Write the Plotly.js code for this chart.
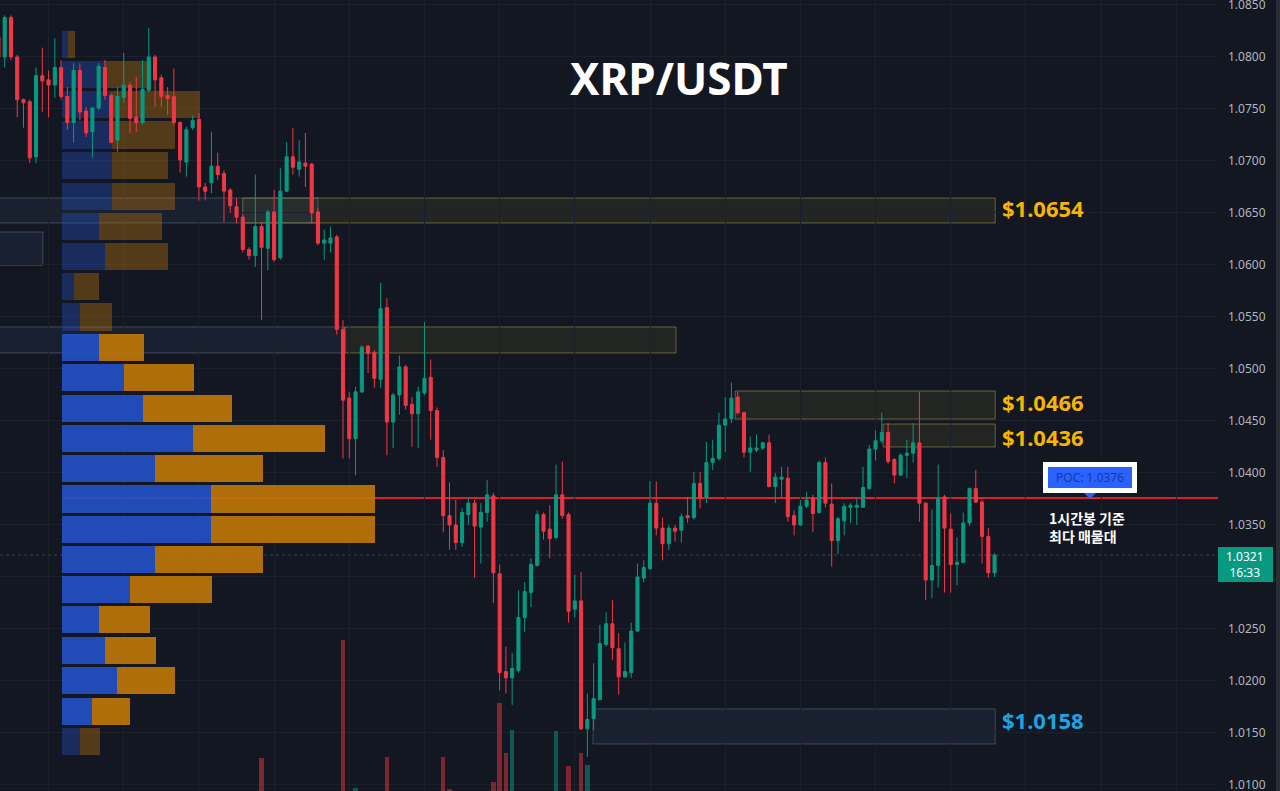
<!DOCTYPE html>
<html><head><meta charset="utf-8">
<script src="https://cdn.plot.ly/plotly-3.0.1.min.js"></script>
<style>html,body{margin:0;padding:0;background:#131722;}#chart{width:1280px;height:791px;}</style>
</head><body><div id="chart"></div>
<script>
// ---- candles (1h) ----
const openP = [1.0819,1.0800,1.0838,1.0800,1.0759,1.0757,1.0704,1.0782,1.0778,1.0773,
1.0790,1.0762,1.0737,1.0787,1.0748,1.0728,1.0751,1.0790,1.0763,1.0720,
1.0761,1.0773,1.0742,1.0737,1.0768,1.0800,1.0780,1.0763,1.0762,1.0737,
1.0699,1.0732,1.0740,1.0675,1.0679,1.0695,1.0688,1.0672,1.0656,1.0646,
1.0615,1.0609,1.0637,1.0616,1.0651,1.0607,1.0671,1.0704,1.0692,1.0698,
1.0697,1.0651,1.0621,1.0621,1.0627,1.0538,1.0472,1.0433,1.0478,1.0522,
1.0516,1.0490,1.0559,1.0449,1.0475,1.0502,1.0466,1.0457,1.0477,1.0492,
1.0460,1.0415,1.0359,1.0350,1.0333,1.0360,1.0371,1.0348,1.0362,1.0378,
1.0303,1.0209,1.0203,1.0210,1.0261,1.0285,1.0311,1.0360,1.0346,1.0338,
1.0379,1.0360,1.0269,1.0277,1.0154,1.0164,1.0182,1.0235,1.0255,1.0231,
1.0204,1.0208,1.0248,1.0299,1.0308,1.0371,1.0347,1.0332,1.0347,1.0345,
1.0359,1.0357,1.0390,1.0377,1.0410,1.0414,1.0446,1.0452,1.0473,1.0458,
1.0420,1.0422,1.0424,1.0429,1.0387,1.0394,1.0395,1.0359,1.0350,1.0368,
1.0376,1.0362,1.0410,1.0370,1.0335,1.0354,1.0367,1.0367,1.0367,1.0385,
1.0423,1.0431,1.0439,1.0413,1.0398,1.0417,1.0419,1.0429,1.0371,1.0297,
1.0311,1.0377,1.0346,1.0312,1.0314,1.0352,1.0385,1.0372,1.0339,1.0304];
const highP = [1.0823,1.0840,1.0840,1.0802,1.0760,1.0759,1.0790,1.0809,1.0787,1.0818,
1.0797,1.0771,1.0794,1.0794,1.0752,1.0752,1.0794,1.0797,1.0765,1.0771,
1.0804,1.0776,1.0781,1.0797,1.0828,1.0802,1.0783,1.0771,1.0789,1.0738,
1.0733,1.0744,1.0746,1.0679,1.0728,1.0708,1.0691,1.0674,1.0664,1.0648,
1.0617,1.0687,1.0641,1.0653,1.0672,1.0693,1.0718,1.0732,1.0720,1.0727,
1.0698,1.0655,1.0634,1.0637,1.0629,1.0547,1.0478,1.0483,1.0523,1.0523,
1.0518,1.0583,1.0568,1.0477,1.0513,1.0504,1.0473,1.0483,1.0545,1.0509,
1.0463,1.0422,1.0391,1.0374,1.0366,1.0376,1.0374,1.0371,1.0393,1.0381,
1.0312,1.0233,1.0227,1.0287,1.0295,1.0318,1.0364,1.0362,1.0369,1.0408,
1.0411,1.0362,1.0302,1.0305,1.0188,1.0217,1.0254,1.0266,1.0278,1.0246,
1.0237,1.0256,1.0313,1.0316,1.0392,1.0392,1.0357,1.0350,1.0350,1.0361,
1.0377,1.0401,1.0401,1.0430,1.0432,1.0458,1.0473,1.0487,1.0478,1.0459,
1.0435,1.0437,1.0430,1.0437,1.0400,1.0406,1.0406,1.0364,1.0374,1.0382,
1.0379,1.0412,1.0415,1.0390,1.0358,1.0371,1.0371,1.0376,1.0406,1.0427,
1.0441,1.0458,1.0448,1.0414,1.0419,1.0432,1.0448,1.0478,1.0372,1.0365,
1.0408,1.0379,1.0361,1.0338,1.0362,1.0386,1.0403,1.0374,1.0347,1.0323];
const lowP = [1.0795,1.0790,1.0797,1.0742,1.0732,1.0698,1.0698,1.0747,1.0742,1.0761,
1.0759,1.0730,1.0718,1.0739,1.0723,1.0703,1.0749,1.0759,1.0717,1.0709,
1.0756,1.0727,1.0728,1.0735,1.0766,1.0752,1.0752,1.0744,1.0735,1.0689,
1.0685,1.0730,1.0662,1.0662,1.0669,1.0682,1.0641,1.0650,1.0640,1.0612,
1.0605,1.0598,1.0547,1.0595,1.0603,1.0605,1.0670,1.0687,1.0685,1.0675,
1.0640,1.0619,1.0605,1.0612,1.0533,1.0414,1.0414,1.0398,1.0477,1.0496,
1.0482,1.0482,1.0417,1.0424,1.0456,1.0461,1.0425,1.0424,1.0475,1.0432,
1.0406,1.0343,1.0326,1.0326,1.0329,1.0350,1.0299,1.0313,1.0353,1.0275,
1.0191,1.0188,1.0177,1.0208,1.0247,1.0271,1.0310,1.0336,1.0318,1.0336,
1.0356,1.0256,1.0261,1.0153,1.0127,1.0153,1.0182,1.0233,1.0220,1.0187,
1.0203,1.0203,1.0247,1.0295,1.0307,1.0340,1.0316,1.0326,1.0334,1.0333,
1.0352,1.0355,1.0366,1.0371,1.0403,1.0412,1.0420,1.0448,1.0456,1.0415,
1.0401,1.0420,1.0422,1.0386,1.0371,1.0376,1.0353,1.0340,1.0349,1.0366,
1.0343,1.0361,1.0367,1.0310,1.0322,1.0340,1.0352,1.0350,1.0367,1.0384,
1.0412,1.0429,1.0409,1.0390,1.0397,1.0395,1.0410,1.0353,1.0278,1.0280,
1.0290,1.0285,1.0285,1.0292,1.0313,1.0349,1.0371,1.0313,1.0299,1.0300];
const closeP = [1.0800,1.0838,1.0800,1.0759,1.0756,1.0703,1.0782,1.0777,1.0773,1.0790,
1.0762,1.0737,1.0787,1.0747,1.0727,1.0751,1.0791,1.0763,1.0718,1.0762,
1.0773,1.0741,1.0737,1.0769,1.0800,1.0778,1.0762,1.0760,1.0737,1.0701,
1.0730,1.0739,1.0675,1.0671,1.0695,1.0687,1.0671,1.0657,1.0646,1.0615,
1.0609,1.0637,1.0617,1.0651,1.0605,1.0671,1.0704,1.0694,1.0699,1.0695,
1.0650,1.0621,1.0624,1.0626,1.0538,1.0470,1.0433,1.0478,1.0521,1.0515,
1.0491,1.0558,1.0449,1.0475,1.0502,1.0465,1.0457,1.0478,1.0491,1.0460,
1.0415,1.0359,1.0350,1.0333,1.0362,1.0371,1.0349,1.0362,1.0379,1.0304,
1.0208,1.0203,1.0212,1.0261,1.0286,1.0312,1.0360,1.0344,1.0337,1.0379,
1.0359,1.0267,1.0277,1.0154,1.0163,1.0183,1.0236,1.0255,1.0232,1.0204,
1.0209,1.0248,1.0300,1.0309,1.0371,1.0347,1.0332,1.0347,1.0344,1.0358,
1.0357,1.0390,1.0376,1.0410,1.0414,1.0446,1.0452,1.0472,1.0458,1.0420,
1.0424,1.0424,1.0429,1.0387,1.0396,1.0396,1.0358,1.0350,1.0368,1.0374,
1.0361,1.0410,1.0371,1.0335,1.0356,1.0368,1.0369,1.0369,1.0386,1.0423,
1.0431,1.0439,1.0411,1.0398,1.0417,1.0419,1.0429,1.0371,1.0297,1.0311,
1.0376,1.0347,1.0312,1.0314,1.0352,1.0385,1.0372,1.0339,1.0304,1.0321];
const volume = [2.1,1.8,2.4,2.0,1.3,2.2,2.5,1.4,1.1,1.9,
1.6,1.7,2.3,1.9,1.2,1.5,2.0,1.6,2.1,1.8,
1.5,1.7,1.0,1.6,2.2,1.8,1.4,0.9,1.5,2.4,
1.9,1.0,2.8,1.1,1.7,1.3,1.9,1.6,1.4,2.3,
1.2,2.6,4.67,2.1,2.5,2.9,2.2,1.8,1.3,1.6,
2.7,2.0,1.2,1.1,3.6,7.05,3.9,4.06,3.2,1.5,
2.0,3.4,4.69,2.6,2.3,2.1,1.6,1.9,2.4,2.5,
3.1,4.69,4.04,2.2,2.0,1.6,2.8,1.9,2.3,4.18,
5.78,4.77,5.23,3.7,2.6,2.4,3.3,1.8,1.9,5.21,
3.5,4.51,2.1,4.77,4.53,3.6,3.3,2.2,2.4,2.6,
1.4,2.7,3.1,1.6,3.4,2.5,2.0,1.5,1.2,1.6,
1.3,2.2,1.8,2.6,1.5,2.4,1.7,2.3,1.9,2.5,
1.4,1.1,1.0,2.6,1.5,1.2,2.2,1.4,1.5,1.1,
1.6,2.4,2.2,2.7,1.6,1.4,0.9,1.0,1.7,2.3,
1.5,1.3,2.1,1.6,1.4,1.2,1.7,3.2,3.8,2.4,
3.0,2.6,2.5,1.3,2.1,1.9,1.6,2.2,2.4,1.5];

// ---- price axis ticks (1.0300 is covered by the last-price tag) ----
const priceTicks = [1.0100,1.0150,1.0200,1.0250,1.0300,1.0350,1.0400,1.0450,1.0500,1.0550,
1.0600,1.0650,1.0700,1.0750,1.0800,1.0850];
const priceTickText = ["1.0100","1.0150","1.0200","1.0250","","1.0350","1.0400","1.0450","1.0500","1.0550",
"1.0600","1.0650","1.0700","1.0750","1.0800","1.0850"];

// ---- volume profile (rows, top to bottom) ----
const profilePrice = [1.0812,1.0783,1.0754,1.0725,1.0696,1.0666,1.0637,1.0608,1.0579,1.0550,1.0521,1.0492,
1.0462,1.0433,1.0404,1.0375,1.0346,1.0317,1.0288,1.0259,1.0229,1.0200,1.0171,1.0142];
const profileBuy  = [6,43,48,50,50,50,37,43,12,18,37,62,81,131,93,149,149,93,68,37,43,55,30,18];
const profileSell = [7,43,90,63,56,63,63,63,25,32,45,70,89,132,108,164,164,108,82,51,51,58,38,20];
const valueAreaHigh = 1.0521, valueAreaLow = 1.0171;

// ---- levels ----
const pocPrice = 1.0376;
const lastPrice = 1.0321;
const lastTime = "16:33";
const levelLabels = ["$1.0654","$1.0466","$1.0436","$1.0158"];
const levelValues = [1.0654,1.0466,1.0436,1.0158];
const levelColors = ["#f7b500","#f7b500","#f7b500","#1ea4e6"];
const titleText = "XRP/USDT";
const noteText = "1시간봉 기준<br>최다 매물대";

// zones: [x0 idx, x1 idx, low, high, kind]
const zones = [
 [-1, 51.0, 1.06404, 1.06644, 'b'],
 [39.0, 159.1, 1.06404, 1.06644, 'o'],
 [-1, 7.1, 1.05998, 1.06317, 'b'],
 [-1, 55.3, 1.05154, 1.05404, 'b'],
 [55.3, 108.15, 1.05154, 1.05404, 'o'],
 [117.6, 159.1, 1.04519, 1.04788, 'o'],
 [141.2, 159.1, 1.04250, 1.04471, 'o'],
 [94.9, 159.1, 1.01394, 1.01731, 'b']
];

const idx = openP.map((_, i) => i);
const GREEN = '#089981', RED = '#f23645';

const inVA = profilePrice.map(p => p <= valueAreaHigh + 1e-6 && p >= valueAreaLow - 1e-6);
const buyColors = inVA.map(v => v ? 'rgba(36,82,200,0.9)' : 'rgba(36,82,200,0.36)');
const sellColors = inVA.map(v => v ? 'rgba(190,118,10,0.92)' : 'rgba(190,118,10,0.38)');

const traces = [
  {type:'bar', orientation:'h', y:profilePrice, x:profileBuy, width:0.0026,
   marker:{color:buyColors, line:{width:0}}, xaxis:'x', yaxis:'y', hoverinfo:'none'},
  {type:'bar', orientation:'h', y:profilePrice, x:profileSell, width:0.0026,
   marker:{color:sellColors, line:{width:0}}, xaxis:'x', yaxis:'y', hoverinfo:'none'},
  {type:'bar', x:idx, y:volume, width:0.7, xaxis:'x2', yaxis:'y2', hoverinfo:'none',
   marker:{color: idx.map(i => closeP[i] >= openP[i] ? 'rgba(8,153,129,0.5)' : 'rgba(242,54,69,0.48)'), line:{width:0}}},
  {type:'candlestick', x:idx, open:openP, high:highP, low:lowP, close:closeP,
   xaxis:'x2', yaxis:'y', whiskerwidth:0, hoverinfo:'none',
   increasing:{line:{color:GREEN, width:1}, fillcolor:GREEN},
   decreasing:{line:{color:RED, width:1}, fillcolor:RED}}
];

const W = 1218, H = 791;
const px = v => v / W, py = v => 1 - v / H;

const shapes = [];
zones.forEach(z => {
  const blue = z[4] === 'b';
  shapes.push({type:'rect', xref:'x2', yref:'y', x0:z[0], x1:z[1], y0:z[2], y1:z[3], layer:'below',
    fillcolor: blue ? 'rgba(100,140,200,0.08)' : 'rgba(210,190,40,0.085)',
    line:{color: blue ? 'rgba(150,170,200,0.32)' : 'rgba(200,180,90,0.45)', width:1}});
});
shapes.push({type:'line', xref:'x', yref:'y', x0:0, x1:1156, y0:pocPrice, y1:pocPrice, layer:'below',
  line:{color:'#dc1f2b', width:2}});
shapes.push({type:'line', xref:'paper', yref:'y', x0:0, x1:1, y0:lastPrice, y1:lastPrice, layer:'below',
  line:{color:'rgba(120,150,175,0.35)', width:1, dash:'dot'}});
// POC label box
shapes.push({type:'rect', xref:'paper', yref:'paper', x0:px(1043), x1:px(1137), y0:py(493), y1:py(462),
  fillcolor:'#ffffff', line:{width:0}});
shapes.push({type:'rect', xref:'paper', yref:'paper', x0:px(1048), x1:px(1132), y0:py(488), y1:py(467),
  fillcolor:'#2962ff', line:{width:0}});
shapes.push({type:'path', xref:'paper', yref:'paper',
  path:`M ${px(1084)},${py(493)} L ${px(1096)},${py(493)} L ${px(1090)},${py(499)} Z`,
  fillcolor:'#2962ff', line:{width:0}});
// last price tag on axis
shapes.push({type:'rect', xref:'paper', yref:'paper', x0:px(1218), x1:px(1273), y0:py(582), y1:py(547),
  fillcolor:GREEN, line:{width:0}});
shapes.push({type:'rect', xref:'paper', yref:'paper', x0:px(1276), x1:px(1281), y0:0, y1:1,
  fillcolor:'#2a2d35', line:{width:0}});

const annotations = [
  {xref:'paper', yref:'paper', x:px(679), y:py(78), xanchor:'center', yanchor:'middle',
   text:'<b>'+titleText+'</b>', showarrow:false,
   font:{family:'Noto Sans', size:44, color:'#ffffff'}},
  {xref:'paper', yref:'paper', x:px(1090), y:py(477.5), xanchor:'center', yanchor:'middle',
   text:'POC: '+pocPrice.toFixed(4), showarrow:false,
   font:{family:'Noto Sans', size:12, color:'#1a3a99'}},
  {xref:'paper', yref:'paper', x:px(1047), y:py(527), xanchor:'left', yanchor:'middle', align:'left',
   text:'<b>'+noteText+'</b>', showarrow:false,
   font:{family:'Noto Sans CJK KR', size:14, color:'#ffffff'}},
  {xref:'paper', yref:'paper', x:px(1245.5), y:py(564.5), xanchor:'center', yanchor:'middle',
   text:lastPrice.toFixed(4)+'<br>'+lastTime, showarrow:false,
   font:{family:'Noto Sans', size:12, color:'#ffffff'}}
];
const levelShift = [1, 2, -1, 5];
levelLabels.forEach((t, k) => {
  annotations.push({xref:'paper', yref:'y', x:px(1000), y:levelValues[k], xanchor:'left', yanchor:'middle',
    yshift:levelShift[k], text:'<b>'+t+'</b>',
    showarrow:false, font:{family:'Noto Sans', size:22, color:levelColors[k]}});
});

const layout = {
  width:1280, height:791, margin:{l:0, r:62, t:0, b:0},
  paper_bgcolor:'#131722', plot_bgcolor:'#131722', showlegend:false, barmode:'stack',
  xaxis:{range:[-62,1156], visible:false, fixedrange:true, rangeslider:{visible:false}},
  xaxis2:{overlaying:'x', range:[0.25,194.66], showgrid:true, gridcolor:'#1c202b', gridwidth:1,
    tickmode:'linear', tick0:8, dtick:12, showticklabels:false, zeroline:false, showline:false, ticks:'',
    rangeslider:{visible:false}},
  yaxis:{range:[1.00942,1.08548], side:'right', tickmode:'array', tickvals:priceTicks, ticktext:priceTickText,
    showgrid:true, gridcolor:'#1c202b', zeroline:false, showline:false, ticks:'', ticklabelstandoff:9,
    ticklabeloverflow:'allow', tickfont:{family:'Noto Sans', size:12, color:'#b2b5be'}},
  yaxis2:{overlaying:'y', range:[4,20], visible:false},
  shapes:shapes, annotations:annotations
};

Plotly.newPlot('chart', traces, layout, {staticPlot:true, displayModeBar:false});
</script></body></html>
